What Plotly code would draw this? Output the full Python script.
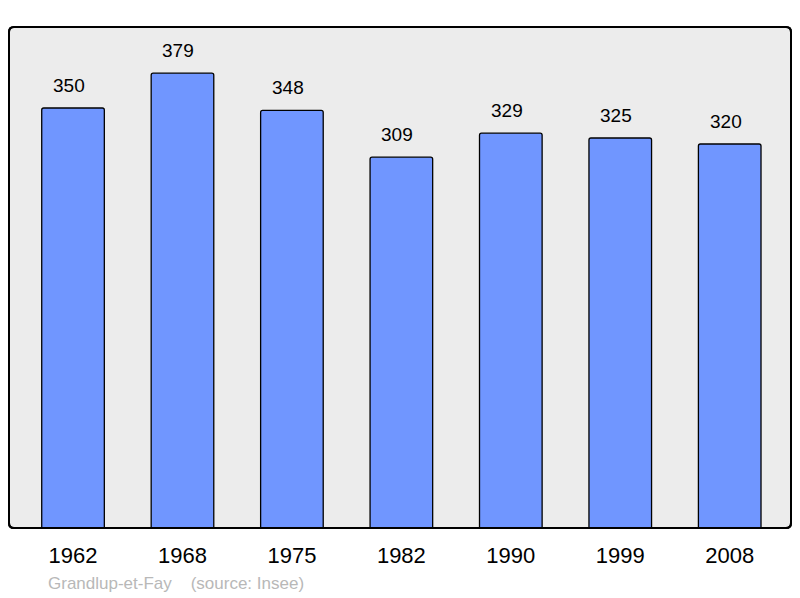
import plotly.graph_objects as go

years = ["1962", "1968", "1975", "1982", "1990", "1999", "2008"]
population = [350, 379, 348, 309, 329, 325, 320]
footer_text = "Grandlup-et-Fay    (source: Insee)"

# page has an 8px body offset; figure is sized to fit the 800x598 window
W, H = 792, 590
L, R, T, B = 1, 9, 19, 70
pw, ph = W - L - R, H - T - B

fig = go.Figure()
fig.add_trace(go.Bar(
    x=list(range(len(years))), y=population,
    width=0.572,
    marker=dict(color="#7096ff", line=dict(color="black", width=1.3), cornerradius=2),
    hoverinfo="skip",
))

for i, v in enumerate(population):
    fig.add_annotation(x=i, y=v, text=str(v), showarrow=False, yanchor="bottom",
                       yshift=10, xshift=-4,
                       font=dict(family="Liberation Sans, Arial", size=19, color="black"))

# rounded frame
rx, ry = 5 / pw, 5 / ph
path = (f"M {rx},0 L {1-rx},0 Q 1,0 1,{ry} L 1,{1-ry} Q 1,1 {1-rx},1 "
        f"L {rx},1 Q 0,1 0,{1-ry} L 0,{ry} Q 0,0 {rx},0 Z")
fig.add_shape(type="path", path=path, xref="paper", yref="paper",
              fillcolor="#ececec", line=dict(color="black", width=2), layer="below")
fig.add_shape(type="path", path=path, xref="paper", yref="paper",
              fillcolor="rgba(0,0,0,0)", line=dict(color="black", width=2), layer="above")

fig.add_annotation(x=(38 - L) / pw, y=(T + ph - 575) / ph, xref="paper", yref="paper",
                   text=footer_text, showarrow=False, xanchor="left", yanchor="middle",
                   font=dict(family="Liberation Sans, Arial", size=17, color="#b8b8b8"))

fig.update_layout(
    width=W, height=H,
    margin=dict(l=L, r=R, t=T, b=B, pad=0),
    paper_bgcolor="white", plot_bgcolor="rgba(0,0,0,0)",
    showlegend=False,
    xaxis=dict(tickmode="array", tickvals=list(range(len(years))), ticktext=years,
               range=[-0.585, 6.56], showgrid=False, zeroline=False, showline=False,
               ticks="outside", ticklen=8, tickcolor="rgba(0,0,0,0)",
               tickfont=dict(family="Liberation Sans, Arial", size=22, color="black"),
               fixedrange=True),
    yaxis=dict(range=[0, 417.5], visible=False, fixedrange=True),
)

fig.write_html("out.html")
